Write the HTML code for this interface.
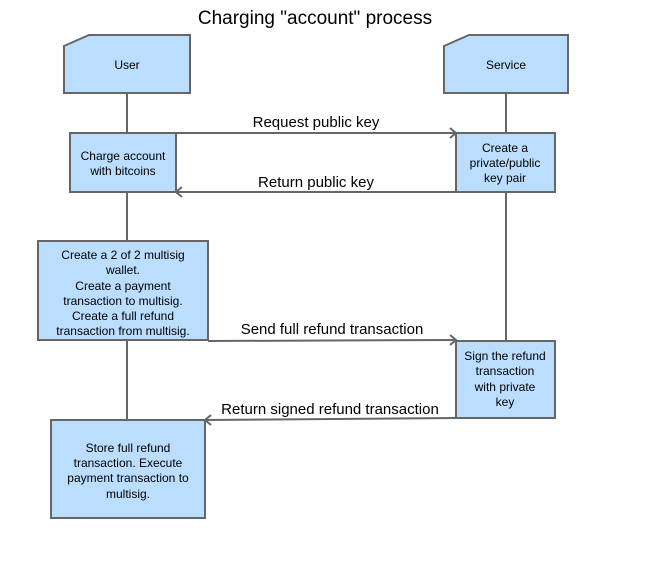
<!DOCTYPE html>
<html><head><style>
body{margin:0;width:670px;height:558px;background:#fff;overflow:hidden}
svg text{font-family:"Liberation Sans",Arial,sans-serif;fill:#000}
</style></head><body>
<svg width="670" height="558" viewBox="0 0 670 558">
<text x="315" y="24" font-size="19" text-anchor="middle">Charging "account" process</text>
<g stroke="#666" stroke-width="2" fill="none">
<line x1="127" y1="93" x2="127" y2="133"/>
<line x1="127" y1="192" x2="127" y2="241"/>
<line x1="127" y1="340" x2="127" y2="420"/>
<line x1="506" y1="93" x2="506" y2="133"/>
<line x1="506" y1="192" x2="506" y2="341"/>
<line x1="176" y1="133" x2="456" y2="133"/>
<polyline points="450,128 456,133 450,138"/>
<line x1="456" y1="192" x2="176" y2="192"/>
<polyline points="182,187 176,192 182,197"/>
<line x1="208" y1="341" x2="456" y2="340"/>
<polyline points="450,335 456,340 450,345"/>
<line x1="456" y1="418" x2="205" y2="420"/>
<polyline points="211,415 205,420 211,425"/>
</g>
<g stroke="#666" stroke-width="2" fill="#bbdefe">
<polygon points="64,46 89,35 190,35 190,93 64,93"/>
<polygon points="444,46 469,35 568,35 568,93 444,93"/>
<rect x="70" y="133" width="106" height="59"/>
<rect x="456" y="133" width="99" height="59"/>
<rect x="38" y="241" width="170" height="99"/>
<rect x="456" y="341" width="99" height="77"/>
<rect x="51" y="420" width="154" height="98"/>
</g>
<g font-size="12" text-anchor="middle">
<text x="127" y="69">User</text>
<text x="506" y="69">Service</text>
<text x="123" y="160">Charge account</text>
<text x="123" y="175">with bitcoins</text>
<text x="505" y="152">Create a</text>
<text x="505" y="167">private/public</text>
<text x="505" y="182">key pair</text>
<text x="123" y="259">Create a 2 of 2 multisig</text>
<text x="123" y="274">wallet.</text>
<text x="123" y="290">Create a payment</text>
<text x="123" y="305">transaction to multisig.</text>
<text x="123" y="320">Create a full refund</text>
<text x="123" y="335">transaction from multisig.</text>
<text x="505" y="360">Sign the refund</text>
<text x="505" y="375">transaction</text>
<text x="505" y="391">with private</text>
<text x="505" y="406">key</text>
<text x="128" y="452">Store full refund</text>
<text x="128" y="467">transaction. Execute</text>
<text x="128" y="482">payment transaction to</text>
<text x="128" y="498">multisig.</text>
</g>
<g font-size="15" text-anchor="middle">
<text x="316" y="127">Request public key</text>
<text x="316" y="187">Return public key</text>
<text x="332" y="334">Send full refund transaction</text>
<text x="330" y="414">Return signed refund transaction</text>
</g>
</svg>
</body></html>
